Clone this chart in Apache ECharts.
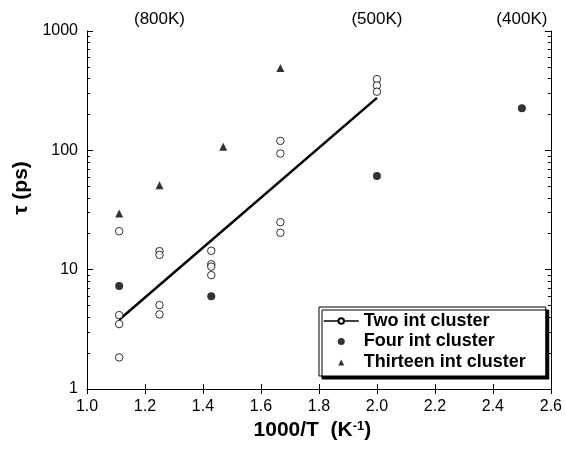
<!DOCTYPE html>
<html>
<head>
<meta charset="utf-8">
<script src="https://cdn.jsdelivr.net/npm/echarts@6/dist/echarts.min.js"></script>
<style>
  html, body { margin: 0; padding: 0; background: #fff; }
  #chart { width: 565px; height: 454px; }
</style>
</head>
<body>
<div id="chart"></div>
<script>
// values (x = 1000/T, tau in ps)
const twoIntX = [1.111, 1.111, 1.111, 1.111, 1.25, 1.25, 1.25, 1.25,
  1.4286, 1.4286, 1.4286, 1.4286, 1.667, 1.667, 1.667, 1.667, 2.0, 2.0, 2.0];
const twoIntTau = [21, 4.16, 3.5, 1.84, 14.3, 13.3, 5.05, 4.22,
  14.4, 11.1, 10.6, 9.0, 120, 94, 25, 20.4, 395, 350, 310];

const fourIntX = [1.111, 1.4286, 2.0, 2.5];
const fourIntTau = [7.3, 6.0, 61, 225];

const thirteenIntX = [1.111, 1.25, 1.47, 1.667];
const thirteenIntTau = [29.6, 51, 107, 490];

// fitted line for the two int cluster
const fitX = [1.111, 2.0];
const fitTau = [3.8, 275];

// temperature labels on the top axis
const topTickValues = [1.25, 2.0, 2.5];
const topTickLabels = ['(800K)', '(500K)', '(400K)'];

// minor ticks of the log axis, in decades
const minorMultipliers = [2, 3, 4, 5, 6, 7, 8, 9];
const decades = [0, 1, 2];

const FONT = '"Liberation Sans", Arial, Helvetica, sans-serif';

// small triangle for the legend, padded to the icon box so it is not stretched
const LEGEND_TRIANGLE = 'path://M0,0 M35,7 M14.5,7 L17.5,1 L20.5,7 Z';

function zip(xs, ys) {
  return xs.map((x, i) => [x, ys[i]]);
}

function minorTickPositions() {
  let out = [];
  decades.forEach((d) => {
    minorMultipliers.forEach((m) => {
      out.push(d + Math.log10(m));
    });
  });
  return out;
}

function minorAxis(position) {
  return {
    type: 'value',
    position: position,
    min: 0,
    max: 3,
    axisLine: { show: false },
    axisLabel: { show: false },
    splitLine: { show: false },
    axisTick: {
      inside: true,
      length: 3,
      customValues: minorTickPositions(),
      lineStyle: { color: '#000', width: 1 }
    }
  };
}

function getOptions() {
  const axisLine = { show: true, lineStyle: { color: '#000', width: 1 } };
  const tick = { show: true, inside: true, length: 5, lineStyle: { color: '#000', width: 1 } };

  return {
    backgroundColor: '#fff',
    animation: false,
    grid: { left: 87, right: 14, top: 31, bottom: 65 },
    xAxis: [{
      type: 'value',
      position: 'bottom',
      min: 1,
      max: 2.6,
      interval: 0.2,
      axisLine: axisLine,
      axisTick: tick,
      splitLine: { show: false },
      axisLabel: {
        margin: 10,
        color: '#000',
        fontFamily: FONT,
        fontSize: 16,
        formatter: (v) => v.toFixed(1)
      },
      name: '{b|1000/T  (K}{s|-1}{b|)}',
      nameLocation: 'middle',
      nameGap: 31,
      nameTextStyle: {
        padding: [0, 13, 0, 0],
        rich: {
          b: { fontFamily: FONT, fontSize: 21, fontWeight: 'bold', color: '#000' },
          s: { fontFamily: FONT, fontSize: 13, fontWeight: 'bold', color: '#000', verticalAlign: 'top' }
        }
      }
    }, {
      type: 'value',
      position: 'top',
      min: 1,
      max: 2.6,
      interval: 0.2,
      axisLine: axisLine,
      axisTick: tick,
      splitLine: { show: false },
      axisLabel: {
        margin: 3,
        color: '#000',
        fontFamily: FONT,
        fontSize: 17,
        customValues: topTickValues,
        formatter: (v) => {
          const i = topTickValues.findIndex((t) => Math.abs(t - v) < 1e-6);
          return i >= 0 ? topTickLabels[i] : '';
        }
      }
    }],
    yAxis: [{
      type: 'log',
      logBase: 10,
      position: 'left',
      min: 1,
      max: 1000,
      axisLine: axisLine,
      axisTick: { show: true, inside: true, length: 6, lineStyle: { color: '#000', width: 1 } },
      splitLine: { show: false },
      axisLabel: {
        margin: 9,
        color: '#000',
        fontFamily: FONT,
        fontSize: 16,
        formatter: (v) => String(Math.round(v))
      },
      name: 'τ (ps)',
      nameLocation: 'middle',
      nameGap: 55,
      nameTextStyle: {
        fontFamily: FONT,
        fontSize: 21,
        fontWeight: 'bold',
        color: '#000',
        padding: [0, 0, 0, 44]
      }
    }, {
      type: 'log',
      logBase: 10,
      position: 'right',
      min: 1,
      max: 1000,
      axisLine: axisLine,
      axisTick: { show: true, inside: true, length: 6, lineStyle: { color: '#000', width: 1 } },
      splitLine: { show: false },
      axisLabel: { show: false }
    },
    minorAxis('left'),
    minorAxis('right')],
    legend: {
      orient: 'vertical',
      left: 319,
      top: 307,
      padding: [5, 20, 5, 4],
      itemWidth: 35,
      itemHeight: 7,
      itemGap: 2.5,
      selectedMode: false,
      backgroundColor: '#fff',
      borderColor: '#000',
      borderWidth: 1,
      borderRadius: 0,
      shadowColor: '#000',
      shadowBlur: 0,
      shadowOffsetX: 3,
      shadowOffsetY: 3,
      lineStyle: { width: 1.5 },
      textStyle: { fontFamily: FONT, fontSize: 18, fontWeight: 'bold', color: '#000' },
      data: [
        { name: 'Two int cluster' },
        { name: 'Four int cluster' },
        { name: 'Thirteen int cluster', icon: LEGEND_TRIANGLE }
      ]
    },
    series: [{
      name: 'Two int cluster',
      type: 'line',
      xAxisIndex: 0,
      yAxisIndex: 0,
      symbol: 'emptyCircle',
      showSymbol: false,
      itemStyle: { color: '#000' },
      lineStyle: { color: '#000', width: 2.5 },
      data: zip(fitX, fitTau),
      z: 3
    }, {
      name: 'Two int cluster',
      type: 'scatter',
      xAxisIndex: 0,
      yAxisIndex: 0,
      symbol: 'circle',
      symbolSize: 7.5,
      itemStyle: { color: '#fff', borderColor: '#000', borderWidth: 1 },
      data: zip(twoIntX, twoIntTau),
      z: 4
    }, {
      name: 'Four int cluster',
      type: 'scatter',
      xAxisIndex: 0,
      yAxisIndex: 0,
      symbol: 'circle',
      symbolSize: 8,
      itemStyle: { color: '#000' },
      data: zip(fourIntX, fourIntTau),
      z: 4
    }, {
      name: 'Thirteen int cluster',
      type: 'scatter',
      xAxisIndex: 0,
      yAxisIndex: 0,
      symbol: 'triangle',
      symbolSize: 8,
      itemStyle: { color: '#000' },
      data: zip(thirteenIntX, thirteenIntTau),
      z: 4
    }]
  };
}

const chart = echarts.init(document.getElementById('chart'), null, { renderer: 'canvas' });
chart.setOption(getOptions());
</script>
</body>
</html>
